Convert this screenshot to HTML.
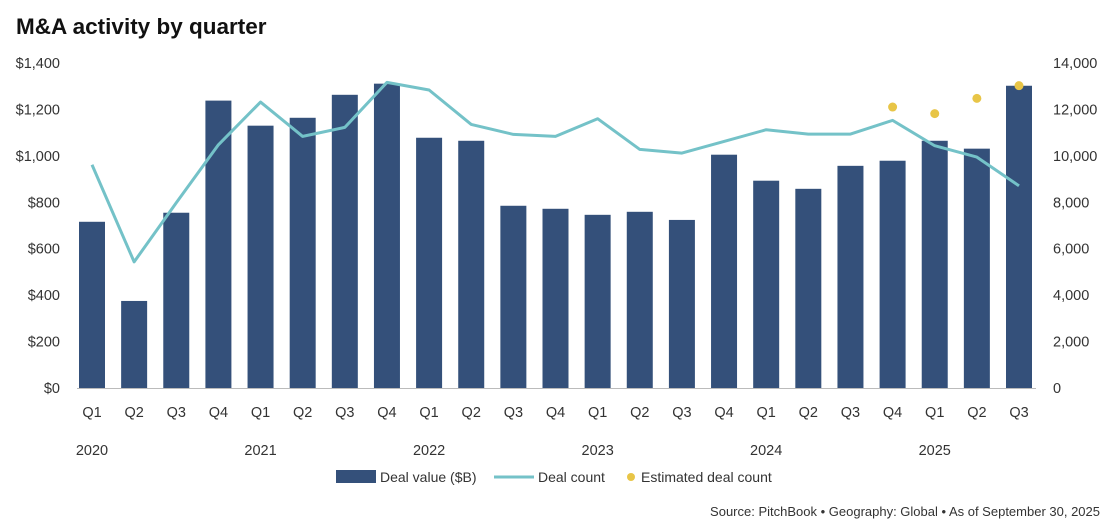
<!DOCTYPE html>
<html><head><meta charset="utf-8"><style>
body{margin:0;background:#fff;width:1117px;height:528px;overflow:hidden;font-family:"Liberation Sans",sans-serif}
</style></head><body>
<svg id="c" width="1117" height="528" style="position:absolute;left:0;top:0"></svg>
<script>
const cats=["Q1","Q2","Q3","Q4","Q1","Q2","Q3","Q4","Q1","Q2","Q3","Q4","Q1","Q2","Q3","Q4","Q1","Q2","Q3","Q4","Q1","Q2","Q3"];
const years=[["2020",0],["2021",4],["2022",8],["2023",12],["2024",16],["2025",20]];
const dealValue=[716,375,755,1238,1130,1164,1263,1311,1078,1065,785,772,746,759,724,1005,893,858,957,979,1065,1031,1302];
const dealCount=[9616,5433,7980,10478,12318,10838,11226,13166,12836,11355,10924,10838,11600,10277,10119,10622,11125,10938,10938,11528,10436,9946,8710];
const estIdx=[19,20,21,22];
const estCount=[12103,11819,12476,13023];
const leftTicks=[0,200,400,600,800,1000,1200,1400];
const rightTicks=[0,2000,4000,6000,8000,10000,12000,14000];
const NS="http://www.w3.org/2000/svg",svg=document.getElementById('c');
const y0=388,y1=63;
const yL=v=>y0-(v/1400)*(y0-y1);
const yR=v=>y0-(v/14000)*(y0-y1);
const xC=i=>92+i*(1019-92)/22;
function mk(t,a,txt){const e=document.createElementNS(NS,t);for(const k in a)e.setAttribute(k,a[k]);if(txt!=null)e.textContent=txt;svg.appendChild(e);return e;}
let e;
e=mk('text',{x:16,y:34,'font-size':22.5,'font-weight':'bold',fill:'#111'},'M&A activity by quarter');


leftTicks.forEach(v=>{e=mk('text',{x:60,y:yL(v)+5,'text-anchor':'end','font-size':14.5,fill:'#333'},'$'+v.toLocaleString('en-US'));

});
rightTicks.forEach(v=>{e=mk('text',{x:1053,y:yR(v)+5,'font-size':14.5,fill:'#333'},v.toLocaleString('en-US'));

});
dealValue.forEach((v,i)=>{e=mk('rect',{x:xC(i)-13,y:yL(v),width:26,height:y0-yL(v),fill:'#34507a'});

});
e=mk('line',{x1:77,x2:1036,y1:y0+0.5,y2:y0+0.5,stroke:'#bbb','stroke-width':1});


e=mk('polyline',{points:dealCount.map((v,i)=>xC(i)+','+yR(v)).join(' '),fill:'none',stroke:'#74c2c8','stroke-width':3,'stroke-linejoin':'round'});


estCount.forEach((v,k)=>{e=mk('circle',{cx:xC(estIdx[k]),cy:yR(v),r:4.5,fill:'#e8c547'});

});
cats.forEach((c,i)=>{e=mk('text',{x:xC(i),y:417,'text-anchor':'middle','font-size':14.5,fill:'#333'},c);

});
years.forEach(([y,i])=>{e=mk('text',{x:xC(i),y:455,'text-anchor':'middle','font-size':14.5,fill:'#333'},y);

});
e=mk('rect',{x:336,y:470,width:40,height:13,fill:'#34507a'});


e=mk('text',{x:380,y:482,'font-size':14,fill:'#333'},'Deal value ($B)');


e=mk('line',{x1:494,x2:534,y1:477,y2:477,stroke:'#74c2c8','stroke-width':3});


e=mk('text',{x:538,y:482,'font-size':14,fill:'#333'},'Deal count');


e=mk('circle',{cx:631,cy:477,r:4,fill:'#e8c547'});


e=mk('text',{x:641,y:482,'font-size':14,fill:'#333'},'Estimated deal count');


e=mk('text',{x:1100,y:516,'text-anchor':'end','font-size':13,fill:'#333'},'Source: PitchBook  •  Geography: Global  •  As of September 30, 2025');


</script>
</body></html>
